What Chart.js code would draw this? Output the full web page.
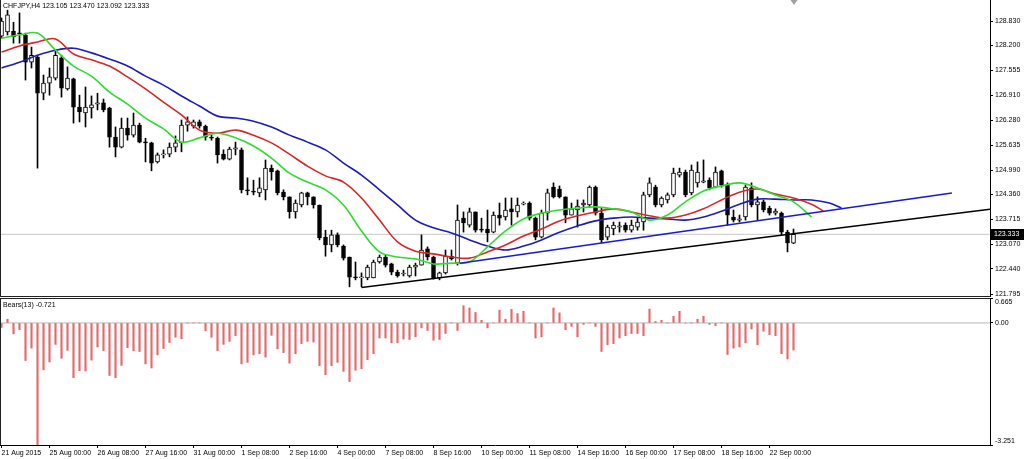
<!DOCTYPE html>
<html>
<head>
<meta charset="utf-8">
<script src="https://cdn.jsdelivr.net/npm/chart.js@4.4.0/dist/chart.umd.min.js"></script>
<style>
  html, body { margin: 0; padding: 0; background: #fff; }
  #wrap { position: relative; width: 1024px; height: 459px; overflow: hidden; }
  #priceChart { position: absolute; left: 0; top: 0; }
  #bearsChart { position: absolute; left: 0; top: 296px; }
</style>
</head>
<body>
<div id="wrap">
  <canvas id="priceChart" width="1024" height="297"></canvas>
  <canvas id="bearsChart" width="1024" height="163"></canvas>
</div>
<script>
// CHFJPY H4 candles
const openP = [128.44,128.55,128.57,128.52,128.47,127.77,127.90,126.97,127.23,127.36,
  127.88,127.08,127.34,126.61,126.46,126.59,126.69,126.72,126.59,125.84,
  125.58,126.07,125.89,126.15,125.71,125.69,125.20,125.38,125.40,125.58,
  125.69,126.15,126.12,126.23,126.12,125.84,125.81,125.40,125.27,125.53,
  125.51,124.48,124.45,124.40,124.48,125.04,124.97,124.42,124.30,123.91,
  124.09,124.40,124.30,124.09,123.26,123.06,123.32,123.03,122.75,122.23,
  122.21,122.21,122.21,122.62,122.75,122.57,122.36,122.31,122.26,122.49,
  122.54,122.96,122.75,122.21,122.34,122.77,122.59,123.75,123.57,123.91,
  123.47,123.47,123.39,123.83,123.78,123.99,123.91,124.11,124.14,123.75,
  123.26,123.88,124.55,124.50,124.30,123.83,123.96,124.09,124.09,124.55,
  123.88,123.26,123.47,123.52,123.57,123.44,123.52,123.65,124.35,124.55,
  124.09,124.22,124.35,124.86,124.94,124.40,124.66,124.68,124.73,124.55,
  124.97,124.60,123.78,123.70,123.78,124.53,124.09,124.17,124.01,123.88,
  123.88,123.39,123.105];
const highP = [128.91,129.11,128.80,129.04,128.52,128.16,127.95,127.44,127.62,128.08,
  127.95,127.65,127.36,126.92,127.13,126.90,126.97,126.82,126.61,126.10,
  126.33,126.33,126.46,126.20,125.81,125.71,125.43,125.51,125.69,125.87,
  126.28,126.36,126.28,126.28,126.15,125.89,125.84,125.51,125.58,125.71,
  125.56,124.79,124.73,124.79,125.25,125.12,124.99,124.48,124.30,124.22,
  124.42,124.42,124.30,124.09,123.44,123.44,123.37,123.06,122.75,122.62,
  122.34,122.54,122.67,122.80,122.80,122.59,122.41,122.41,122.54,122.59,
  123.32,123.01,122.77,122.36,122.93,122.93,124.09,123.91,124.01,123.91,
  123.75,123.96,123.91,124.14,124.27,124.27,124.27,124.17,124.17,123.78,
  123.96,124.50,124.66,124.58,124.30,124.14,124.22,124.22,124.58,124.58,
  124.01,123.57,123.65,123.65,123.63,123.70,123.75,124.42,124.79,124.60,
  124.30,124.40,125.04,125.04,124.99,125.12,125.20,125.25,124.79,125.07,
  124.99,124.66,123.96,123.83,124.60,124.66,124.30,124.22,124.06,123.99,
  123.91,123.44,123.470];
const lowP = [128.39,128.47,128.26,128.26,127.31,127.62,125.04,126.80,126.92,127.31,
  126.87,127.05,126.20,126.23,126.10,126.33,126.54,126.49,125.58,125.33,
  125.56,125.76,125.84,125.69,125.20,124.97,125.17,125.30,125.33,125.46,
  125.46,125.99,126.07,126.07,125.76,125.76,125.17,125.25,125.25,125.38,
  124.40,124.35,124.35,124.30,124.22,124.73,124.35,124.22,123.75,123.75,
  124.04,124.09,124.01,123.19,122.77,122.88,123.01,122.67,121.98,122.16,
  121.98,122.16,122.21,122.59,122.49,122.29,122.23,122.26,122.23,122.26,
  122.54,122.67,122.18,122.16,122.31,122.67,122.54,123.39,123.52,123.39,
  123.39,123.14,123.37,123.57,123.70,123.57,123.78,124.09,123.70,123.19,
  123.24,123.70,124.27,124.27,123.63,123.83,123.52,123.91,124.04,123.83,
  123.11,123.19,123.32,123.39,123.39,123.39,123.44,123.44,124.30,124.04,
  124.04,124.14,124.30,124.81,124.30,124.35,124.55,124.66,124.48,124.53,
  124.55,123.57,123.65,123.65,123.70,124.04,123.70,123.91,123.83,123.83,
  123.32,122.88,123.092];
const closeP = [128.83,128.99,128.42,128.50,127.77,127.95,126.97,127.23,127.39,127.95,
  127.10,127.36,126.61,126.49,126.61,126.67,126.72,126.54,125.84,125.58,
  126.07,125.89,126.15,125.71,125.69,125.17,125.38,125.40,125.58,125.69,
  126.15,126.23,126.23,126.12,125.84,125.81,125.38,125.27,125.53,125.56,
  124.48,124.45,124.42,124.53,125.04,124.94,124.40,124.30,123.91,124.14,
  124.40,124.30,124.09,123.24,123.06,123.32,123.06,122.72,122.23,122.21,
  122.23,122.49,122.62,122.75,122.54,122.36,122.26,122.33,122.49,122.54,
  122.93,122.75,122.21,122.34,122.77,122.70,123.70,123.63,123.91,123.44,
  123.44,123.37,123.83,123.75,123.96,123.91,124.09,124.14,123.75,123.26,
  123.88,124.40,124.30,124.30,123.83,123.99,124.06,124.14,124.55,123.88,
  123.19,123.52,123.57,123.55,123.44,123.57,123.65,124.35,124.66,124.09,
  124.27,124.35,124.91,124.94,124.35,124.99,124.94,124.71,124.53,124.94,
  124.60,123.83,123.70,123.73,124.55,124.09,124.17,123.96,123.88,123.93,
  123.39,123.11,123.333];

// Alligator lines (lips green, teeth red, jaw blue), shifted past the last bar
const lipsBars = [0,3,6,9,12,15,18,21,24,27,30,33,36,39,42,45,48,51,54,57,60,63,66,69,72,75,78,81,84,87,90,93,96,99,102,105,108,111,114,117,120,123,126,129,132,135];
const lipsVals = [128.39,128.47,128.52,128.08,127.67,127.41,127.00,126.69,126.33,126.05,
  125.71,125.82,125.94,125.82,125.61,125.30,124.91,124.68,124.48,124.09,
  123.42,122.88,122.75,122.70,122.57,122.59,122.62,123.01,123.42,123.73,
  123.88,123.96,124.01,124.04,123.99,123.91,123.70,123.83,124.17,124.45,
  124.58,124.66,124.53,124.35,124.17,123.78];
const teethBars = [0,3,6,9,12,15,18,21,24,27,30,33,36,39,42,45,48,51,54,57,60,63,66,69,72,75,78,81,84,87,90,93,96,99,102,105,108,111,114,117,120,123,126,129,132,135,137];
const teethVals = [128.03,128.19,128.29,128.37,127.98,127.83,127.67,127.39,127.08,126.74,
  126.41,126.02,125.94,126.02,125.89,125.69,125.40,125.09,124.84,124.68,
  124.27,123.70,123.14,122.90,122.83,122.75,122.72,122.88,123.06,123.29,
  123.47,123.68,123.81,123.91,123.99,123.91,123.81,123.75,123.83,123.99,
  124.22,124.42,124.50,124.37,124.27,124.11,123.93];
const jawBars = [0,3,6,9,12,15,18,21,24,27,30,33,36,39,42,45,48,51,54,57,60,63,66,69,72,75,78,81,84,87,90,93,96,99,102,105,108,111,114,117,120,123,126,129,132,135,138,140];
const jawVals = [127.62,127.77,127.95,128.08,128.13,128.01,127.85,127.67,127.41,127.18,
  126.90,126.64,126.38,126.33,126.25,126.10,125.89,125.71,125.51,125.17,
  124.86,124.48,124.09,123.70,123.50,123.37,123.19,123.03,122.93,123.03,
  123.19,123.39,123.55,123.68,123.75,123.78,123.75,123.73,123.70,123.78,
  123.93,124.11,124.24,124.24,124.22,124.22,124.14,124.01];

// hand-drawn trend lines: [bar, price] end points
const blueTrendBars = [76.4, 158.4];
const blueTrendPrices = [122.59, 124.40];
const blackTrendBars = [60, 164.75];
const blackTrendPrices = [121.96, 123.98];

// Bears Power (13)
const bearsVals = [-0.12,0.10,-0.29,-0.18,-1.00,-0.67,-3.251,-1.25,-1.04,-0.57,
  -0.94,-0.73,-1.46,-1.27,-1.28,-0.99,-0.64,-0.74,-1.40,-1.46,
  -1.13,-0.66,-0.74,-0.76,-1.09,-1.20,-0.85,-0.68,-0.52,-0.38,
  -0.42,0,0,0,-0.21,-0.38,-0.74,-0.57,-0.49,-0.34,
  -1.09,-1.05,-0.85,-0.82,-0.91,-0.33,-0.69,-0.79,-1.07,-0.82,
  -0.55,-0.49,-0.51,-1.14,-1.38,-1.14,-1.05,-1.29,-1.56,-1.26,
  -1.22,-0.98,-0.82,-0.40,-0.40,-0.53,-0.53,-0.43,-0.44,-0.37,
  -0.13,-0.20,-0.46,-0.44,-0.28,0,-0.20,0.46,0.40,0.28,
  0.07,-0.13,0,0.34,0.10,0.36,0.25,0.31,0,-0.40,
  -0.37,0,0.40,0.27,-0.18,-0.09,-0.37,-0.04,0,-0.09,
  -0.76,-0.58,-0.55,-0.40,-0.34,-0.28,-0.28,-0.34,0.37,0.04,
  0.07,0,0.18,0.31,0,0,0.10,0.18,-0.04,-0.07,
  0,-0.84,-0.67,-0.64,-0.53,-0.16,-0.58,-0.22,-0.31,-0.34,
  -0.82,-0.96,-0.721];

const dateBars = [0,8,16,24,32,40,48,56,64,72,80,88,96,104,112,120,128];
const dateLabels = ["21 Aug 2015","25 Aug 00:00","26 Aug 08:00","27 Aug 16:00","31 Aug 00:00",
  "1 Sep 08:00","2 Sep 16:00","4 Sep 00:00","7 Sep 08:00","8 Sep 16:00","10 Sep 00:00",
  "11 Sep 08:00","14 Sep 16:00","16 Sep 00:00","17 Sep 08:00","18 Sep 16:00","22 Sep 00:00"];
const priceTicks = [128.830,128.200,127.555,126.910,126.280,125.635,124.990,124.360,123.715,123.070,122.440,121.795];
const bearsTicks = [0.665, 0, -3.251];

const font = { family: '"Liberation Sans", Arial, sans-serif', size: 7 };
const xMin = -0.25, xMax = 164.75;
const last = closeP.length - 1;
const bars = closeP.map((_, i) => i);

// frame, caption and price tag
const frame = {
  id: 'frame',
  afterDraw(chart, args, o) {
    const { ctx, chartArea: a } = chart;
    ctx.save();
    ctx.strokeStyle = '#222';
    ctx.lineWidth = 1;
    ctx.beginPath();
    ctx.moveTo(a.left + 0.5, a.top); ctx.lineTo(a.left + 0.5, a.bottom);
    if (o.top) { ctx.moveTo(a.left, a.top + 0.5); ctx.lineTo(a.right, a.top + 0.5); }
    if (o.bottom) { ctx.moveTo(a.left, a.bottom - 0.5); ctx.lineTo(a.right, a.bottom - 0.5); }
    ctx.stroke();
    ctx.font = font.size + 'px ' + font.family;
    ctx.textBaseline = 'middle';
    ctx.fillStyle = '#000';
    ctx.fillText(o.title, 3, o.titleY);
    if (o.priceTag) {
      const y = Math.round(chart.scales.y.getPixelForValue(closeP[last]));
      ctx.fillRect(a.right + 1, y - 5, 33, 11);
      ctx.fillStyle = '#fff';
      ctx.fillText(closeP[last].toFixed(3), a.right + 4, y + 0.5);
      // chart shift marker
      const sx = chart.scales.x.getPixelForValue(last);
      ctx.fillStyle = '#a0a0a0';
      ctx.beginPath();
      ctx.moveTo(sx - 3, 0); ctx.lineTo(sx + 4, 0); ctx.lineTo(sx + 0.5, 5);
      ctx.fill();
    }
    ctx.restore();
  }
};

const xScale = (show) => ({
  type: 'linear', min: xMin, max: xMax, offset: false, display: show,
  afterBuildTicks: s => { s.ticks = dateBars.map(v => ({ value: v })); },
  afterFit: s => { s.height = show ? 14 : 0; s.paddingLeft = 0; s.paddingRight = 0; },
  ticks: {
    callback: v => dateLabels[dateBars.indexOf(v)],
    align: 'start', autoSkip: false, maxRotation: 0, padding: 1, font, color: '#000'
  },
  grid: { drawOnChartArea: false, tickLength: 3, color: '#000', offset: false },
  border: { color: '#000' }
});

new Chart(document.getElementById('priceChart'), {
  type: 'line',
  data: {
    datasets: [
      { type: 'line', data: [{ x: xMin, y: closeP[last] }, { x: xMax, y: closeP[last] }],
        borderColor: '#c8c8c8', borderWidth: 1, pointRadius: 0, order: 9 },
      { type: 'bar', data: bars.map(i => ({ x: i, y: [lowP[i], highP[i]] })),
        backgroundColor: '#000', barThickness: 1, grouped: false, order: 8 },
      { type: 'bar', data: bars.map(i => ({ x: i, y: [openP[i], closeP[i]] })),
        backgroundColor: bars.map(i => closeP[i] >= openP[i] ? '#fff' : '#000'),
        borderColor: '#000', borderWidth: 1, borderSkipped: false,
        barThickness: 4, minBarLength: 1, grouped: false, order: 7 },
      { data: jawBars.map((b, k) => ({ x: b, y: jawVals[k] })),
        borderColor: '#1c1cb8', borderWidth: 1.6, pointRadius: 0, tension: 0.35, order: 5 },
      { data: teethBars.map((b, k) => ({ x: b, y: teethVals[k] })),
        borderColor: '#d92626', borderWidth: 1.6, pointRadius: 0, tension: 0.35, order: 4 },
      { data: lipsBars.map((b, k) => ({ x: b, y: lipsVals[k] })),
        borderColor: '#2fdc2f', borderWidth: 1.6, pointRadius: 0, tension: 0.35, order: 3 },
      { data: blueTrendBars.map((b, k) => ({ x: b, y: blueTrendPrices[k] })),
        borderColor: '#1a1ad0', borderWidth: 1.5, pointRadius: 0, order: 2 },
      { data: blackTrendBars.map((b, k) => ({ x: b, y: blackTrendPrices[k] })),
        borderColor: '#000', borderWidth: 1.5, pointRadius: 0, order: 1 }
    ]
  },
  options: {
    responsive: false,
    animation: false,
    events: [],
    layout: { padding: 0 },
    plugins: {
      legend: { display: false },
      tooltip: { enabled: false },
      frame: {
        title: 'CHFJPY,H4 ' + [openP[last], highP[last], lowP[last], closeP[last]].map(v => v.toFixed(3)).join(' '),
        titleY: 6, bottom: true, priceTag: true
      }
    },
    scales: {
      x: xScale(false),
      y: {
        position: 'right', min: 121.718, max: 129.373,
        afterBuildTicks: s => { s.ticks = priceTicks.map(v => ({ value: v })); },
        afterFit: s => { s.width = 34; s.paddingTop = 0; s.paddingBottom = 0; },
        ticks: { callback: v => v.toFixed(3), font, color: '#000', padding: 2, autoSkip: false },
        grid: { drawOnChartArea: false, tickLength: 3, color: '#000' },
        border: { color: '#000' }
      }
    }
  },
  plugins: [frame]
});

new Chart(document.getElementById('bearsChart'), {
  type: 'line',
  data: {
    datasets: [
      { type: 'line', data: [{ x: xMin, y: 0 }, { x: xMax, y: 0 }],
        borderColor: '#b4b4b4', borderWidth: 1, pointRadius: 0, order: 3 },
      { type: 'bar', data: bars.map(i => ({ x: i, y: bearsVals[i] })),
        backgroundColor: '#e36b6b', barThickness: 1.5, grouped: false, order: 1 }
    ]
  },
  options: {
    responsive: false,
    animation: false,
    events: [],
    layout: { padding: { top: 2, left: 0, right: 0, bottom: 0 } },
    plugins: {
      legend: { display: false },
      tooltip: { enabled: false },
      frame: { title: 'Bears(13) ' + bearsVals[last].toFixed(3), titleY: 9, top: true }
    },
    scales: {
      x: xScale(true),
      y: {
        position: 'right', min: -3.251, max: 0.665,
        afterBuildTicks: s => { s.ticks = bearsTicks.map(v => ({ value: v })); },
        afterFit: s => { s.width = 34; s.paddingTop = 0; s.paddingBottom = 0; },
        ticks: {
          callback: v => v === 0 ? '0.00' : v > 0 ? ['', v.toFixed(3)] : [v.toFixed(3), ''],
          font, color: '#000', padding: 2, autoSkip: false
        },
        grid: { drawOnChartArea: false, tickLength: 3, color: '#000' },
        border: { color: '#000' }
      }
    }
  },
  plugins: [frame]
});
</script>
</body>
</html>
